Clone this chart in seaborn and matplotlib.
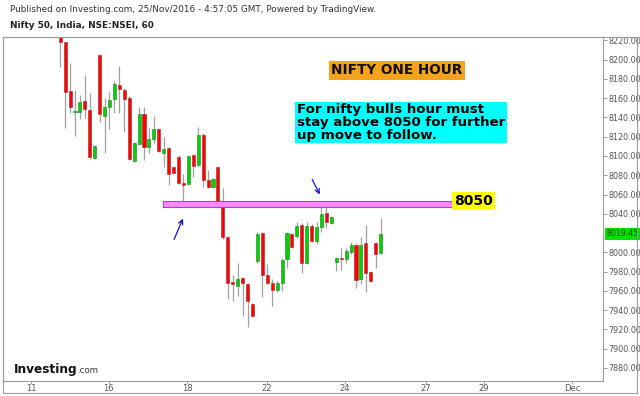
import numpy as np
import matplotlib
matplotlib.use("Agg")
import matplotlib.pyplot as plt
import seaborn as sns
from matplotlib.patches import Rectangle, FancyArrowPatch

# ---------------- data (hourly candles) ----------------
opens = [8223, 8218, 8167, 8146, 8146, 8157, 8148, 8098, 8205, 8141,
         8151, 8159, 8174, 8169, 8160, 8095, 8112, 8144, 8109, 8118,
         8128, 8103, 8108, 8089, 8099, 8072, 8071, 8101, 8091, 8122,
         8075, 8068, 8089, 8049, 8016, 7969, 7965, 7973, 7967, 7946,
         7991, 8020, 7976, 7968, 7961, 7968, 7993, 8019, 8017, 8028,
         7989, 8027, 8012, 8026, 8041, 8030, 7990, 7994.5, 7993, 8000,
         8008, 7972, 8010, 7980, 8010, 7999]
highs = [8224, 8218, 8196, 8169, 8163, 8184, 8165, 8111, 8206, 8160,
         8166, 8178, 8193, 8171, 8162, 8115, 8151, 8151, 8129, 8142,
         8129, 8120, 8109, 8089, 8101, 8081, 8101, 8102, 8130, 8124,
         8085, 8077, 8090, 8067, 8017, 7976, 7989, 7974, 7968, 7947,
         8021, 8021, 7988, 7972, 7970, 7994, 8021, 8020, 8031, 8030,
         8031, 8029, 8031, 8051, 8051, 8038, 7995, 8004, 8005, 8011,
         8010, 8016, 8028, 7981, 8011, 8036]
lows = [8192, 8129, 8145, 8121, 8138, 8139, 8097, 8097, 8135, 8103,
        8128, 8145, 8145, 8125, 8096, 8094, 8111, 8096, 8103, 8114,
        8104, 8089, 8070, 8082, 8071, 8052, 8070, 8078, 8090, 8068,
        8067, 8067, 8046, 8014, 7952, 7950, 7955, 7934, 7923, 7933,
        7989, 7954, 7967, 7944, 7959, 7960, 7984, 8005, 8015, 7979,
        7988, 8011, 8009, 8021, 8025, 8029, 7981, 7982, 7989, 7998,
        7963, 7967, 7959, 7969, 7984, 7998]
closes = [8218, 8166, 8151, 8147, 8156, 8149, 8099, 8110, 8144, 8151,
          8158, 8175, 8170, 8159, 8097, 8113, 8144, 8109, 8118, 8128,
          8105, 8107, 8081, 8082, 8072, 8070, 8100, 8090, 8122, 8075,
          8068, 8076, 8052, 8016, 7968, 7967, 7972, 7968, 7949, 7934,
          8019, 7976, 7968, 7961, 7968, 7992, 8020, 8006, 8027, 7989,
          8027, 8012, 8026, 8040, 8031, 8037, 7994, 7993.5, 8001, 8008,
          7971, 8008, 7979, 7970, 7998, 8019.45]

day_labels = ["11", "16", "18", "22", "24", "27", "29", "Dec"]
day_label_pos = [-5.9, 9.8, 25.8, 41.9, 57.7, 74.1, 85.9, 103.9]

price_ticks = [v for v in range(7880, 8221, 20) if v != 8020]
last_price = 8019.45
support_level = 8050
support_span = (20.9, 79.5)

title_text = "NIFTY ONE HOUR"
note_text = "For nifty bulls hour must\nstay above 8050 for further\nup move to follow."
header1 = "Published on Investing.com, 25/Nov/2016 - 4:57:05 GMT, Powered by TradingView."
header2 = "Nifty 50, India, NSE:NSEI, 60"

# ---------------- style ----------------
sns.set_theme(style="white")
plt.rcParams["font.family"] = ["DejaVu Sans"]

W, H = 640, 396
fig = plt.figure(figsize=(W / 100, H / 100), dpi=100)


def fx(px):
    return px / W


def fy(py):
    return 1 - py / H


ax = fig.add_axes([fx(3), fy(380.5), fx(603) - fx(3), fy(37) - fy(380.5)])
ax.set_facecolor("white")

xs = np.arange(len(opens))
o = np.array(opens, float)
c = np.array(closes, float)
hi = np.array(highs, float)
lo = np.array(lows, float)
up = c >= o

# wicks
ax.vlines(xs, lo, hi, color="#a0a0a0", lw=0.9, zorder=2)
# bodies
bottoms = np.minimum(o, c)
heights = np.maximum(np.abs(c - o), 0.8)
body_col = np.where(up, "#00d400", "#ff0000")
edge_col = np.where(up, "#2a7a2a", "#9b2a2a")
ax.bar(xs, heights, bottom=bottoms, width=0.62, color=body_col,
       edgecolor=edge_col, linewidth=0.4, zorder=3)

# support band
ax.fill_between(support_span, support_level - 3, support_level + 3,
                facecolor="#ff88ff", edgecolor="#b040c0", linewidth=0.8, zorder=4)

ax.set_xlim(-11.6, 110.1)
ax.set_ylim(7867, 8223.5)

# axes
ax.yaxis.tick_right()
ax.set_yticks(price_ticks)
ax.set_yticklabels([f"{v:.2f}" for v in price_ticks])
ax.set_xticks(day_label_pos)
ax.set_xticklabels(day_labels)
ax.tick_params(axis="y", which="both", right=True, left=False, length=3,
               width=0.6, color="#888888", labelsize=5.8, labelcolor="#555555", pad=1.0)
ax.tick_params(axis="x", bottom=True, length=2, width=0.6, color="#888888",
               labelsize=6, labelcolor="#555555", pad=0.5, direction="out")
for s in ax.spines.values():
    s.set_color("#9a9a9a")
    s.set_linewidth(0.8)
ax.grid(False)

# last price tag
ax.annotate(f"{last_price:.2f}", xy=(1.0, last_price), xycoords=("axes fraction", "data"),
            xytext=(2.6, 0), textcoords="offset points", va="center", ha="left",
            fontsize=5.6, color="#1a4a1a",
            bbox=dict(boxstyle="square,pad=0.2", fc="#00e000", ec="none"),
            annotation_clip=False, zorder=6)

# outer frame
fig.patches.append(Rectangle((fx(3), fy(393)), fx(637) - fx(3), fy(37) - fy(393),
                             transform=fig.transFigure, fill=False,
                             edgecolor="#9a9a9a", linewidth=0.8))

# header
fig.text(fx(10), fy(9), header1, fontsize=6.4, color="#333333", va="center", ha="left")
fig.text(fx(10), fy(25), header2, fontsize=6.4, color="#222222", va="center",
         ha="left", fontweight="bold")

# annotations
fig.text(fx(397), fy(70.5), title_text, fontsize=9.8, fontweight="bold", color="#111111",
         ha="center", va="center",
         bbox=dict(boxstyle="square,pad=0.15", fc="#f7a21b", ec="none"))
fig.text(fx(297), fy(122.5), note_text, fontsize=9.6, fontweight="bold", color="#000000",
         ha="left", va="center", linespacing=0.98,
         bbox=dict(boxstyle="square,pad=0.12", fc="#00ffff", ec="none"))
fig.text(fx(473.5), fy(201), f"{support_level}", fontsize=10, fontweight="bold",
         color="#000000", ha="center", va="center",
         bbox=dict(boxstyle="square,pad=0.15", fc="#ffff00", ec="none"))

arrow_kw = dict(arrowstyle="->", color="#1010e0", lw=0.9, mutation_scale=8)
fig.add_artist(FancyArrowPatch(
    (fx(173), fy(242)), (fx(184), fy(216)), transform=fig.transFigure, **arrow_kw))
fig.add_artist(FancyArrowPatch(
    (fx(311), fy(177)), (fx(321), fy(197)), transform=fig.transFigure, **arrow_kw))

# logo
fig.text(fx(14), fy(369), "Investing", fontsize=8.7, fontweight="bold", color="#111111",
         ha="left", va="center")
fig.text(fx(77.5), fy(370.5), ".com", fontsize=6.2, color="#333333", ha="left", va="center")

fig.savefig("out.png", dpi=100)
